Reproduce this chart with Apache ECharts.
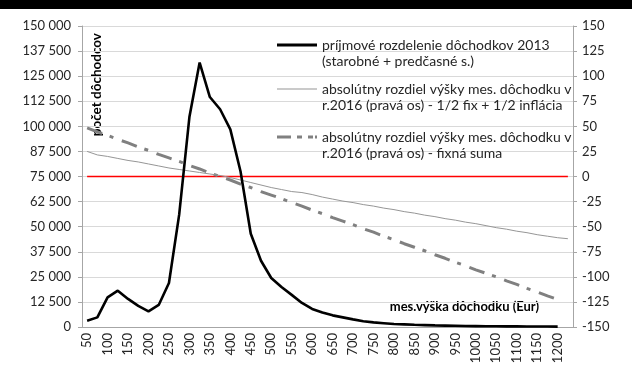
<!DOCTYPE html>
<html>
<head>
<meta charset="utf-8">
<script src="https://cdn.jsdelivr.net/npm/echarts@6/dist/echarts.min.js"></script>
<style>
  html, body { margin: 0; padding: 0; background: #ffffff; }
  #chart { width: 632px; height: 372px; }
</style>
</head>
<body>
<div id="chart"></div>
<script>
// Monthly pension amount (EUR), one category every 25 EUR
const categories = ['50','75','100','125','150','175','200','225','250','275','300','325','350','375','400','425',
  '450','475','500','525','550','575','600','625','650','675','700','725','750','775','800','825','850','875',
  '900','925','950','975','1000','1025','1050','1075','1100','1125','1150','1175','1200','1225'];

// Number of pensioners per income band, 2013 (left axis)
const pensioners2013 = [3100, 4800, 14800, 18100, 14000, 10500, 7800, 11000, 21900, 56000, 104600, 131800,
  114600, 108500, 98500, 77500, 46500, 33000, 24400, 19900, 16000, 12000, 9000, 7200, 5800, 4800, 3800, 2900,
  2300, 1900, 1500, 1300, 1100, 950, 800, 700, 600, 500, 450, 400, 350, 320, 300, 280, 250, 220, 200];

// Absolute difference of monthly pension in 2016, 1/2 fixed + 1/2 inflation (right axis)
const diffHalfFixHalfInfl = [25, 21.5, 20, 18, 16, 14.5, 12.5, 10.5, 8.5, 7, 5.5, 4, 2.5, 1, -1, -3.5, -6, -8.5,
  -11, -13, -15, -16, -18, -20.5, -22.5, -24.5, -26, -28, -29.5, -31.5, -33, -35, -36.5, -38.5, -40, -42, -43.5,
  -45.5, -47, -49, -51, -52.5, -54.5, -56, -58, -59.5, -61, -62];

// Absolute difference of monthly pension in 2016, fixed sum (right axis)
const diffFixedSum = [48.5, 44.5, 41, 37, 33.5, 29.5, 26, 22, 18.5, 15, 11, 7.5, 3.5, 0, -3.5, -7.5, -11, -15,
  -18.5, -22, -26, -29.5, -33.5, -37, -41, -44.5, -48, -52, -55.5, -59.5, -63, -67, -70.5, -74, -78, -81.5,
  -85.5, -89, -93, -96.5, -100, -104, -107.5, -111.5, -115, -119, -122.5];

// Zero reference on the right axis
const zeroLine = [0, 0, 0, 0, 0, 0, 0, 0, 0, 0, 0, 0, 0, 0, 0, 0, 0, 0, 0, 0, 0, 0, 0, 0,
  0, 0, 0, 0, 0, 0, 0, 0, 0, 0, 0, 0, 0, 0, 0, 0, 0, 0, 0, 0, 0, 0, 0, 0];

const seriesNames = [
  'príjmové rozdelenie dôchodkov 2013\n(starobné + predčasné s.)',
  'absolútny rozdiel výšky mes. dôchodku v\nr.2016 (pravá os) - 1/2 fix + 1/2 inflácia',
  'absolútny rozdiel výšky mes. dôchodku v\nr.2016 (pravá os) - fixná suma'
];
const leftAxisName = 'počet dôchodcov';
const bottomAxisName = 'mes.výška dôchodku (Eur)';

const FONT = 'Lato';
const TXT = '#262626';

function spaced(v) {
  return String(v).replace(/\B(?=(\d{3})+(?!\d))/g, ' ');
}

// One legend block per series; the empty first text line keeps the
// key line level with the first line of its two-line label.
function legendAt(name, top, icon, iconHeight) {
  return {
    data: [{ name: name, icon: icon }],
    left: 277,
    top: top,
    padding: 0,
    orient: 'vertical',
    itemWidth: 40,
    itemHeight: iconHeight,
    selectedMode: false,
    itemStyle: { borderWidth: 0 },
    formatter: function (n) { return '\n' + n; },
    textStyle: {
      fontFamily: FONT, fontSize: 14, color: TXT, lineHeight: 16
    }
  };
}

const dashIcon = 'path://M0,0h14v3h-14z M20,0h5v3h-5z M31,0h5v3h-5z M38,0h2v3h-2z';

const chart = echarts.init(document.getElementById('chart'), null, { renderer: 'canvas' });

chart.setOption({
  animation: false,
  backgroundColor: '#ffffff',
  textStyle: { fontFamily: FONT },
  grid: { left: 82, right: 59, top: 26, bottom: 45, containLabel: false },
  legend: [
    legendAt(seriesNames[0], 21, 'rect', 3),
    legendAt(seriesNames[1], 65, 'rect', 1),
    legendAt(seriesNames[2], 113, dashIcon, 3)
  ],
  xAxis: {
    type: 'category',
    data: categories,
    boundaryGap: true,
    axisLine: { lineStyle: { color: '#a6a6a6', width: 1 } },
    axisTick: { show: false },
    axisLabel: {
      interval: 1, rotate: 90, margin: 6,
      fontFamily: FONT, fontSize: 13, color: TXT
    },
    splitLine: { show: false }
  },
  yAxis: [
    {
      type: 'value',
      min: 0, max: 150000, interval: 12500,
      axisLine: { show: true, lineStyle: { color: '#a6a6a6' } },
      axisTick: { show: true, length: 4, lineStyle: { color: '#a6a6a6' } },
      axisLabel: {
        margin: 11, fontFamily: FONT, fontSize: 13, color: TXT,
        formatter: spaced
      },
      splitLine: { show: true, lineStyle: { color: '#d9d9d9', width: 1 } }
    },
    {
      type: 'value',
      min: -150, max: 150, interval: 25,
      position: 'right',
      axisLine: { show: true, lineStyle: { color: '#a6a6a6' } },
      axisTick: { show: true, length: 4, lineStyle: { color: '#a6a6a6' } },
      axisLabel: { margin: 9, fontFamily: FONT, fontSize: 13, color: TXT },
      splitLine: { show: false }
    }
  ],
  series: [
    {
      name: 'nula',
      type: 'line',
      yAxisIndex: 1,
      data: zeroLine,
      symbol: 'none',
      silent: true,
      lineStyle: { color: '#ff0000', width: 1.3 },
      z: 1
    },
    {
      name: seriesNames[2],
      type: 'line',
      yAxisIndex: 1,
      data: diffFixedSum,
      symbol: 'none',
      color: '#808080',
      lineStyle: { color: '#808080', width: 3, type: [16, 8, 4, 9] },
      z: 2
    },
    {
      name: seriesNames[1],
      type: 'line',
      yAxisIndex: 1,
      data: diffHalfFixHalfInfl,
      symbol: 'none',
      color: '#969696',
      lineStyle: { color: '#969696', width: 1 },
      z: 3
    },
    {
      name: seriesNames[0],
      type: 'line',
      yAxisIndex: 0,
      data: pensioners2013,
      symbol: 'none',
      color: '#000000',
      lineStyle: { color: '#000000', width: 2.6 },
      z: 4
    }
  ],
  graphic: [
    {
      type: 'rect',
      left: 0, top: 0,
      shape: { width: 632, height: 9 },
      style: { fill: '#000000' },
      silent: true
    },
    {
      type: 'text',
      x: 97, y: 33,
      rotation: Math.PI / 2,
      style: {
        text: leftAxisName,
        fontFamily: FONT, fontSize: 13.5, fontWeight: 'bold', fill: '#000000',
        align: 'right', verticalAlign: 'middle'
      },
      silent: true
    },
    {
      type: 'text',
      x: 539, y: 307,
      style: {
        text: bottomAxisName,
        fontFamily: FONT, fontSize: 13, fontWeight: 'bold', fill: '#000000',
        align: 'right', verticalAlign: 'middle'
      },
      silent: true
    }
  ]
});
</script>
</body>
</html>
